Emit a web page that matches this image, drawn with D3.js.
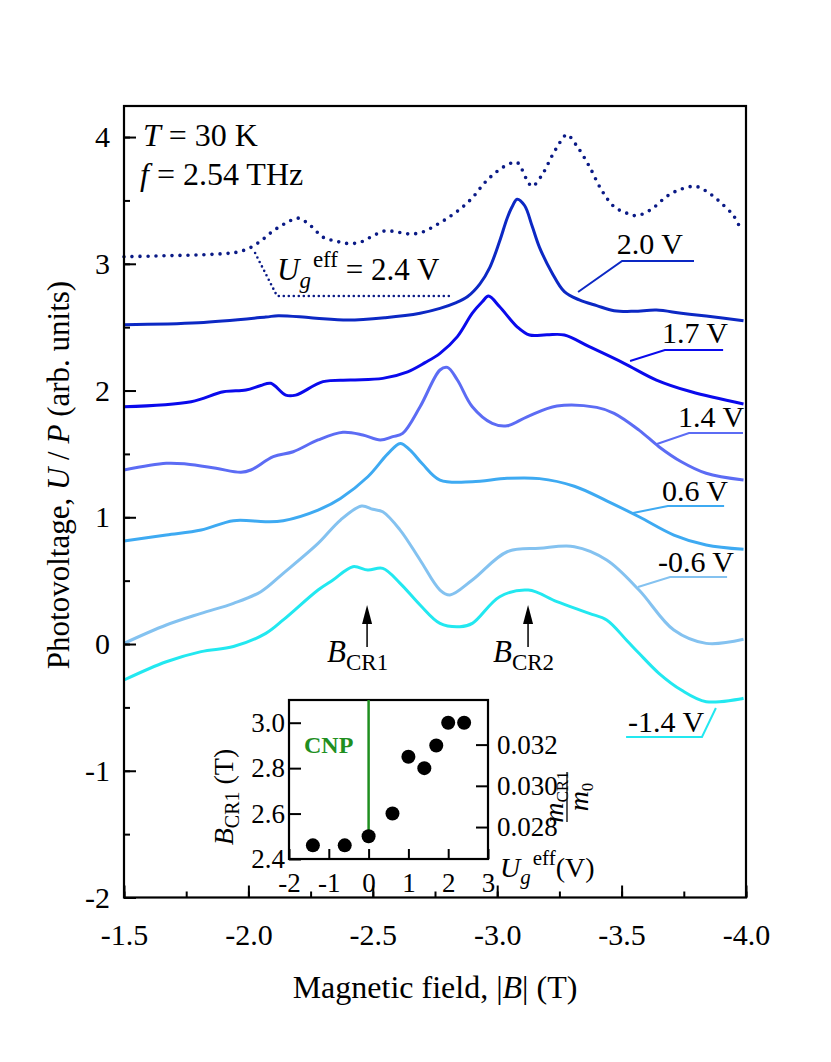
<!DOCTYPE html>
<html><head><meta charset="utf-8">
<script src="https://cdn.jsdelivr.net/npm/d3@7"></script>
<style>body{margin:0;background:#fff}</style>
</head><body><svg id="c" width="831" height="1062" font-family="Liberation Serif"></svg>
<script>
// ---------- data ----------
const xTicks = [-1.5, -2.0, -2.5, -3.0, -3.5, -4.0];
const yTicks = [-2, -1, 0, 1, 2, 3, 4];

const field_24 = [-1.50,-1.60,-1.70,-1.80,-1.90,-1.95,-2.00,-2.05,-2.10,-2.15,-2.20,-2.25,-2.30,-2.35,-2.40,-2.45,-2.50,-2.55,-2.60,-2.65,-2.70,-2.75,-2.80,-2.85,-2.90,-2.95,-3.00,-3.05,-3.08,-3.12,-3.14,-3.18,-3.22,-3.26,-3.28,-3.32,-3.37,-3.42,-3.47,-3.52,-3.56,-3.62,-3.68,-3.74,-3.80,-3.85,-3.90,-3.95,-3.97];
const pv_24 = [3.055,3.06,3.065,3.07,3.08,3.09,3.12,3.18,3.26,3.32,3.36,3.30,3.21,3.18,3.16,3.17,3.22,3.26,3.25,3.235,3.25,3.30,3.36,3.43,3.52,3.64,3.73,3.79,3.80,3.66,3.61,3.70,3.85,3.98,4.02,3.93,3.77,3.58,3.45,3.40,3.38,3.43,3.53,3.59,3.61,3.56,3.48,3.38,3.31];

const field_20 = [-1.50,-1.80,-2.07,-2.12,-2.25,-2.40,-2.55,-2.69,-2.77,-2.83,-2.88,-2.93,-2.97,-3.01,-3.04,-3.06,-3.08,-3.11,-3.14,-3.17,-3.22,-3.27,-3.33,-3.40,-3.47,-3.55,-3.64,-3.74,-3.84,-3.99];
const pv_20 = [2.52,2.535,2.58,2.59,2.575,2.556,2.575,2.61,2.648,2.69,2.74,2.84,2.97,3.18,3.36,3.45,3.51,3.46,3.30,3.13,2.93,2.78,2.715,2.67,2.63,2.625,2.635,2.61,2.588,2.55];

const field_17 = [-1.50,-1.77,-1.90,-1.99,-2.05,-2.09,-2.15,-2.19,-2.30,-2.41,-2.54,-2.64,-2.71,-2.77,-2.84,-2.90,-2.94,-2.965,-3.01,-3.08,-3.13,-3.20,-3.27,-3.37,-3.51,-3.64,-3.78,-3.99];
const pv_17 = [1.872,1.912,1.99,2.004,2.04,2.057,1.964,1.964,2.07,2.083,2.096,2.148,2.22,2.293,2.425,2.61,2.70,2.745,2.661,2.503,2.438,2.44,2.438,2.346,2.215,2.083,1.99,1.894];

const field_14 = [-1.50,-1.67,-1.75,-1.87,-1.97,-2.01,-2.10,-2.18,-2.28,-2.38,-2.46,-2.53,-2.58,-2.62,-2.69,-2.77,-2.80,-2.84,-2.90,-2.98,-3.04,-3.12,-3.24,-3.40,-3.47,-3.57,-3.65,-3.74,-3.84,-3.99];
const pv_14 = [1.373,1.426,1.42,1.386,1.355,1.373,1.478,1.517,1.61,1.67,1.649,1.61,1.636,1.662,1.872,2.162,2.183,2.083,1.872,1.741,1.722,1.793,1.878,1.867,1.82,1.688,1.557,1.438,1.347,1.294];

const field_06 = [-1.50,-1.67,-1.81,-1.94,-2.07,-2.14,-2.28,-2.37,-2.48,-2.56,-2.61,-2.65,-2.70,-2.77,-2.90,-3.04,-3.17,-3.31,-3.44,-3.57,-3.71,-3.84,-3.99];
const pv_06 = [0.813,0.86,0.899,0.973,0.965,0.973,1.057,1.149,1.32,1.50,1.583,1.53,1.42,1.294,1.28,1.307,1.305,1.245,1.13,1.004,0.86,0.781,0.747];

const field_m06 = [-1.50,-1.67,-1.81,-1.94,-2.05,-2.14,-2.28,-2.37,-2.455,-2.50,-2.54,-2.61,-2.69,-2.77,-2.81,-2.90,-3.04,-3.17,-3.31,-3.44,-3.57,-3.71,-3.84,-3.99];
const pv_m06 = [0.005,0.15,0.242,0.321,0.413,0.558,0.794,0.978,1.089,1.063,1.044,0.899,0.663,0.426,0.387,0.505,0.728,0.755,0.768,0.663,0.426,0.11,0.005,0.037];

const field_m14 = [-1.50,-1.67,-1.81,-1.94,-2.07,-2.14,-2.28,-2.34,-2.42,-2.48,-2.54,-2.61,-2.69,-2.77,-2.85,-2.90,-3.01,-3.125,-3.24,-3.37,-3.44,-3.52,-3.57,-3.65,-3.74,-3.84,-3.99];
const pv_m14 = [-0.284,-0.14,-0.06,-0.02,0.084,0.19,0.426,0.505,0.61,0.584,0.597,0.479,0.308,0.163,0.137,0.163,0.373,0.426,0.334,0.242,0.19,0.03,-0.073,-0.231,-0.363,-0.455,-0.428];

const seriesLabels = ["2.0 V", "1.7 V", "1.4 V", "0.6 V", "-0.6 V", "-1.4 V"];
const seriesColors = ["#0c28c4", "#0a0aec", "#5c6cf4", "#3eaaf2", "#84c2f0", "#22e8f0"];

// inset data
const gateEff = [-1.4, -0.6, 0, 0.6, 1.0, 1.4, 1.7, 2.0, 2.4];
const bCR1 = [2.46, 2.46, 2.5, 2.6, 2.85, 2.8, 2.9, 3.0, 3.0];
const insetXTicks = [-2, -1, 0, 1, 2, 3];
const insetYTicks = [2.4, 2.6, 2.8, 3.0];
const massTicks = [0.028, 0.030, 0.032];

// ---------- drawing ----------
const FF = "Liberation Serif";
const svg = d3.select("#c");
const FONT = 30;
const L = 124, R = 746, T = 106, Bm = 897.5;
const x = d3.scaleLinear().domain([-1.5, -4.0]).range([L, R]);
const y = d3.scaleLinear().domain([-2, 4.245]).range([Bm, T]);
const txt = (sel) => sel.append("text").attr("font-family", FF).attr("fill", "#000");

const fields = [field_20, field_17, field_14, field_06, field_m06, field_m14];
const pvs = [pv_20, pv_17, pv_14, pv_06, pv_m06, pv_m14];
const series = seriesLabels.map((lab, i) => ({
  label: lab, color: seriesColors[i],
  pts: fields[i].map((b, j) => [b, pvs[i][j]])
}));

const line = d3.line().x(d => x(d[0])).y(d => y(d[1])).curve(d3.curveCatmullRom.alpha(0.5));

// curves
svg.append("g").selectAll("path").data(series).join("path")
  .attr("d", d => line(d.pts)).attr("fill", "none")
  .attr("stroke", d => d.color).attr("stroke-width", 3).attr("stroke-linejoin", "round");

// dotted 2.4 V
const dotted = field_24.map((b, j) => [b, pv_24[j]]);
svg.append("path").attr("d", line(dotted)).attr("fill", "none")
  .attr("stroke", "#0a1a86").attr("stroke-width", 3.6)
  .attr("stroke-linecap", "round").attr("stroke-dasharray", "0 8");

// frame
svg.append("rect").attr("x", L).attr("y", T).attr("width", R - L).attr("height", Bm - T)
  .attr("fill", "none").attr("stroke", "#000").attr("stroke-width", 2.2);

// axes
function styleAxis(g, fs) {
  g.select(".domain").remove();
  g.attr("font-family", FF);
  g.selectAll(".tick line").attr("stroke", "#000").attr("stroke-width", 2);
  g.selectAll(".tick text").attr("font-size", fs).attr("font-family", FF).attr("fill", "#000");
}
const xMinor = d3.range(0, 11).map(i => -1.5 - 0.25 * i);
styleAxis(svg.append("g").attr("transform", `translate(0,${Bm})`)
  .call(d3.axisBottom(x).tickValues(xMinor).tickSize(-6).tickFormat("")), FONT);
styleAxis(svg.append("g").attr("transform", `translate(0,${Bm})`)
  .call(d3.axisBottom(x).tickValues(xTicks).tickSize(-12).tickPadding(26).tickFormat(d => d.toFixed(1))), FONT);
const yMinor = d3.range(-2, 4.01, 0.5);
styleAxis(svg.append("g").attr("transform", `translate(${L},0)`)
  .call(d3.axisLeft(y).tickValues(yMinor).tickSize(-6).tickFormat("")), FONT);
styleAxis(svg.append("g").attr("transform", `translate(${L},0)`)
  .call(d3.axisLeft(y).tickValues(yTicks).tickSize(-12).tickPadding(14).tickFormat(d => String(d))), FONT);

// axis titles
txt(svg).attr("x", (L + R) / 2).attr("y", 998).attr("text-anchor", "middle")
  .attr("font-size", 32)
  .call(t => { t.append("tspan").text("Magnetic field, |");
               t.append("tspan").attr("font-style", "italic").text("B");
               t.append("tspan").text("| (T)"); });
txt(svg).attr("transform", "translate(69,475) rotate(-90)").attr("text-anchor", "middle")
  .attr("font-size", 31)
  .call(t => { t.append("tspan").text("Photovoltage, ");
               t.append("tspan").attr("font-style", "italic").text("U");
               t.append("tspan").text(" / ");
               t.append("tspan").attr("font-style", "italic").text("P");
               t.append("tspan").text(" (arb. units)"); });

// annotations top-left
txt(svg).attr("x", 143).attr("y", 146).attr("font-size", 32)
  .call(t => { t.append("tspan").attr("font-style", "italic").text("T");
               t.append("tspan").text(" = 30 K"); });
txt(svg).attr("x", 140).attr("y", 185).attr("font-size", 32)
  .call(t => { t.append("tspan").attr("font-style", "italic").text("f");
               t.append("tspan").text(" = 2.54 THz"); });

// U_g^eff label with dotted leader
const lin = d3.line().x(d => x(d[0])).y(d => y(d[1]));
const dotLeader = [[-2.027, 3.085], [-2.115, 2.746], [-2.818, 2.746]];
svg.append("path").attr("d", lin(dotLeader))
  .attr("fill", "none").attr("stroke", "#0a1a86").attr("stroke-width", 2.6)
  .attr("stroke-linecap", "round").attr("stroke-dasharray", "0 5");
txt(svg).attr("x", 277).attr("y", 280).attr("font-size", 31)
  .call(t => { t.append("tspan").attr("font-style", "italic").text("U");
               t.append("tspan").attr("font-style", "italic").attr("font-size", 23).attr("dy", 8).text("g");
               t.append("tspan").attr("font-size", 23).attr("dy", -21).attr("dx", 2).text("eff");
               t.append("tspan").attr("dy", 13).text(" = 2.4 V"); });

// series labels with leaders (data coordinates)
const leaders = [
  {pts: [[-3.325, 2.777], [-3.502, 3.022], [-3.791, 3.022]], tx: -3.481, ty: 3.077},
  {pts: [[-3.534, 2.233], [-3.674, 2.320], [-3.908, 2.320]], tx: -3.662, ty: 2.375},
  {pts: [[-3.642, 1.578], [-3.771, 1.665], [-3.988, 1.665]], tx: -3.727, ty: 1.712},
  {pts: [[-3.546, 1.034], [-3.686, 1.089], [-3.912, 1.089]], tx: -3.662, ty: 1.128},
  {pts: [[-3.566, 0.450], [-3.695, 0.529], [-3.924, 0.529]], tx: -3.646, ty: 0.568},
  {pts: [[-3.879, -0.505], [-3.823, -0.734], [-3.518, -0.734]], tx: -3.526, ty: -0.694}
];
leaders.forEach((ld, i) => {
  svg.append("path").attr("d", lin(ld.pts)).attr("fill", "none")
    .attr("stroke", series[i].color).attr("stroke-width", 2);
  txt(svg).attr("x", x(ld.tx)).attr("y", y(ld.ty)).attr("font-size", 30).text(series[i].label);
});

// B_CR arrows
const arrows = [{b: -2.477, lab: "CR1", tx: -2.316}, {b: -3.124, lab: "CR2", tx: -2.983}];
arrows.forEach(a => {
  const ax = x(a.b), yTip = y(0.308), yBot = y(-0.024);
  svg.append("line").attr("x1", ax).attr("x2", ax).attr("y1", yTip + 12).attr("y2", yBot)
    .attr("stroke", "#000").attr("stroke-width", 1.5);
  svg.append("path").attr("d", `M${ax},${yTip} L${ax - 5},${yTip + 19} L${ax + 5},${yTip + 19} Z`).attr("fill", "#000");
  txt(svg).attr("x", x(a.tx)).attr("y", y(-0.142)).attr("font-size", 31)
    .call(t => { t.append("tspan").attr("font-style", "italic").text("B");
                 t.append("tspan").attr("font-size", 23).attr("dy", 8).text(a.lab); });
});

// ---------- inset ----------
const IL = 289, IR = 488, IT = 700, IB = 859;
const ix = d3.scaleLinear().domain([-2, 3]).range([IL, IR]);
const iy = d3.scaleLinear().domain([2.4, 3.1]).range([IB, IT]);
const kMass = 1.75882e11 / (2 * Math.PI * 2.54e12); // m/m0 per tesla at f = 2.54 THz
const im = d3.scaleLinear().domain([2.4 * kMass, 3.1 * kMass]).range([IB, IT]);

svg.append("rect").attr("x", IL).attr("y", IT).attr("width", IR - IL).attr("height", IB - IT)
  .attr("fill", "#fff").attr("stroke", "#000").attr("stroke-width", 2.2);

svg.append("line").attr("x1", ix(0)).attr("x2", ix(0)).attr("y1", iy(2.47)).attr("y2", IT)
  .attr("stroke", "#1f8f1f").attr("stroke-width", 2.5);
txt(svg).attr("x", 304).attr("y", 753).attr("font-size", 24).attr("font-weight", "bold")
  .attr("fill", "#1f8f1f").text("CNP");

styleAxis(svg.append("g").attr("transform", `translate(0,${IB})`)
  .call(d3.axisBottom(ix).tickValues(insetXTicks).tickSize(-10).tickPadding(14).tickFormat(d => String(d))), 27);
styleAxis(svg.append("g").attr("transform", `translate(${IL},0)`)
  .call(d3.axisLeft(iy).tickValues(insetYTicks).tickSize(-12).tickPadding(4).tickFormat(d => d.toFixed(1))), 27);
styleAxis(svg.append("g").attr("transform", `translate(${IR},0)`)
  .call(d3.axisRight(im).tickValues(massTicks).tickSize(-12).tickPadding(9).tickFormat(d => d.toFixed(3))), 27);

svg.append("g").selectAll("circle").data(gateEff.map((g, i) => [g, bCR1[i]])).join("circle")
  .attr("cx", d => ix(d[0])).attr("cy", d => iy(d[1])).attr("r", 7).attr("fill", "#000");

// inset titles
txt(svg).attr("transform", "translate(233,797) rotate(-90)").attr("text-anchor", "middle")
  .attr("font-size", 28)
  .call(t => { t.append("tspan").attr("font-style", "italic").text("B");
               t.append("tspan").attr("font-size", 20).attr("dy", 6).text("CR1");
               t.append("tspan").attr("dy", -6).text(" (T)"); });
txt(svg).attr("x", 500).attr("y", 877).attr("font-size", 28)
  .call(t => { t.append("tspan").attr("font-style", "italic").text("U");
               t.append("tspan").attr("font-style", "italic").attr("font-size", 21).attr("dy", 7).text("g");
               t.append("tspan").attr("font-size", 21).attr("dy", -19).attr("dx", 2).text("eff");
               t.append("tspan").attr("dy", 12).text("(V)"); });
const frac = svg.append("g").attr("transform", "translate(567,797) rotate(-90)");
txt(frac).attr("x", 0).attr("y", -4).attr("text-anchor", "middle").attr("font-size", 28)
  .call(t => { t.append("tspan").attr("font-style", "italic").text("m");
               t.append("tspan").attr("font-size", 17).attr("dy", 5).text("CR1"); });
frac.append("line").attr("x1", -25).attr("x2", 25).attr("y1", 0).attr("y2", 0)
  .attr("stroke", "#000").attr("stroke-width", 1.3);
txt(frac).attr("x", 0).attr("y", 21).attr("text-anchor", "middle").attr("font-size", 28)
  .call(t => { t.append("tspan").attr("font-style", "italic").text("m");
               t.append("tspan").attr("font-size", 17).attr("dy", 5).text("0"); });
</script></body></html>
